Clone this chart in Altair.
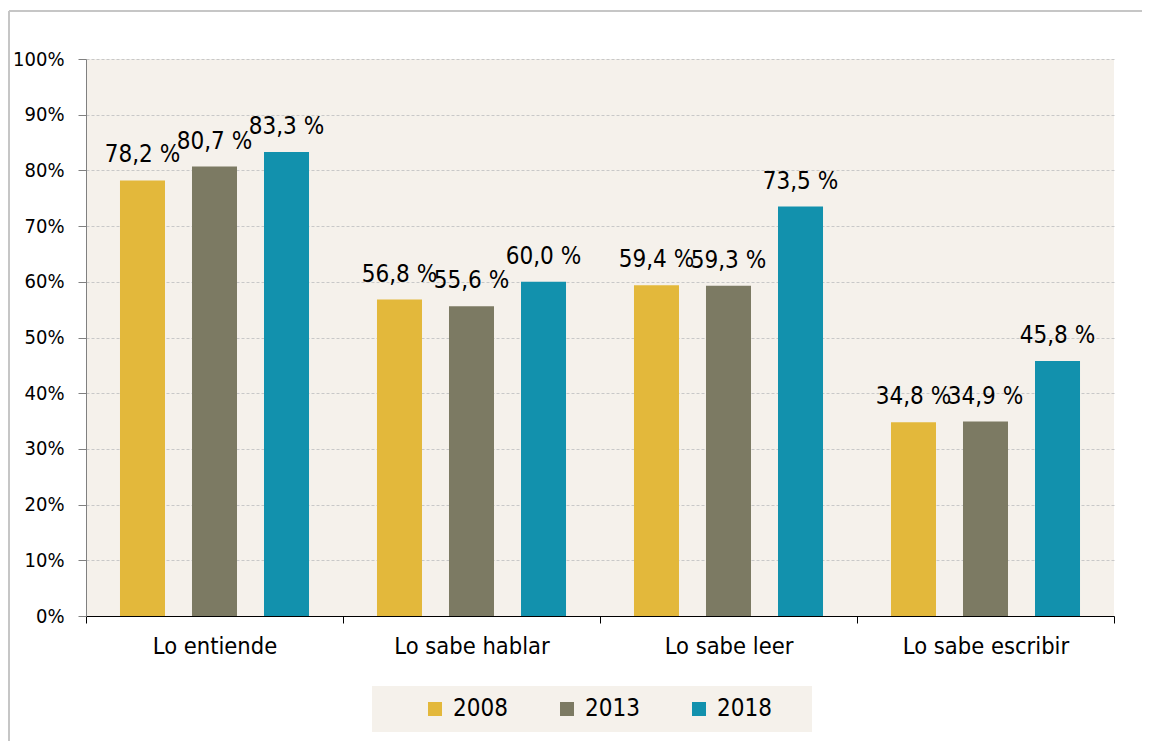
import altair as alt
import pandas as pd

categories = ["Lo entiende", "Lo sabe hablar", "Lo sabe leer", "Lo sabe escribir"]
years = ["2008", "2013", "2018"]
v2008 = [78.2, 56.8, 59.4, 34.8]
v2013 = [80.7, 55.6, 59.3, 34.9]
v2018 = [83.3, 60.0, 73.5, 45.8]
colors = ["#E3B83B", "#7C7A63", "#1291AD"]
y_ticks = list(range(0, 101, 10))

rows = []
for yr, vals in zip(years, [v2008, v2013, v2018]):
    for c, v in zip(categories, vals):
        rows.append({"cat": c, "year": yr, "value": v})
df = pd.DataFrame(rows)

FONT = "DejaVu Sans Condensed"
BG = "#F5F1EB"
W, H = 1028, 557

base = alt.Chart(df).encode(
    x=alt.X(
        "cat:N",
        sort=categories,
        scale=alt.Scale(paddingInner=0, paddingOuter=0),
        axis=alt.Axis(
            title=None, labelAngle=0, tickBand="extent", labelFontSize=23.5,
            labelFont=FONT, labelPadding=11, tickSize=7, tickColor="black",
            domainColor="black", labelColor="black", grid=False,
        ),
    ),
    xOffset=alt.XOffset(
        "year:N", sort=years,
        scale=alt.Scale(paddingInner=0.375, paddingOuter=0.472),
    ),
)

bars = base.mark_bar().encode(
    y=alt.Y(
        "value:Q",
        scale=alt.Scale(domain=[0, 100]),
        axis=alt.Axis(
            values=y_ticks, labelExpr="datum.value + '%'", title=None,
            labelFontSize=20, labelFont=FONT, labelColor="black",
            labelPadding=14, tickSize=8, tickColor="#808080",
            domainColor="#808080", gridColor="#c8c8c8", gridDash=[3, 2],
        ),
    ),
    color=alt.Color(
        "year:N",
        scale=alt.Scale(domain=years, range=colors),
        legend=alt.Legend(
            title=".", titleOrient="right", titleColor=BG, titleFontSize=2,
            titlePadding=28,
            orient="none", legendX=286, legendY=627,
            direction="horizontal", fillColor=BG, padding=11,
            symbolType="square", symbolSize=196, symbolOffset=40,
            symbolStrokeWidth=0, labelFontSize=24, labelFont=FONT,
            labelColor="black", labelOffset=6, columnPadding=7,
        ),
    ),
)

labels = base.mark_text(
    baseline="alphabetic", dy=-18, fontSize=24, font=FONT, color="black"
).encode(
    y=alt.Y("value:Q"),
    text=alt.Text("lbl:N"),
).transform_calculate(
    lbl="replace(format(datum.value, '.1f'), '.', ',') + ' %'"
)

frame_df = pd.DataFrame({"k": [0]})
frame_left = alt.Chart(frame_df).mark_rule(color="#c6c6c6", strokeWidth=2).encode(
    x=alt.value(-77), y=alt.value(-48), y2=alt.value(700)
)
frame_top = alt.Chart(frame_df).mark_rule(color="#c6c6c6", strokeWidth=2).encode(
    x=alt.value(-77), x2=alt.value(1070), y=alt.value(-48)
)

chart = alt.layer(bars, labels, frame_left, frame_top).properties(
    width=W, height=H,
    autosize=alt.AutoSizeParams(type="none"),
    padding={"left": 78, "top": 51, "right": 28, "bottom": 125},
).configure_view(fill=BG, strokeWidth=0)

chart.save("out.html", embed_options={"renderer": "svg", "actions": False})
